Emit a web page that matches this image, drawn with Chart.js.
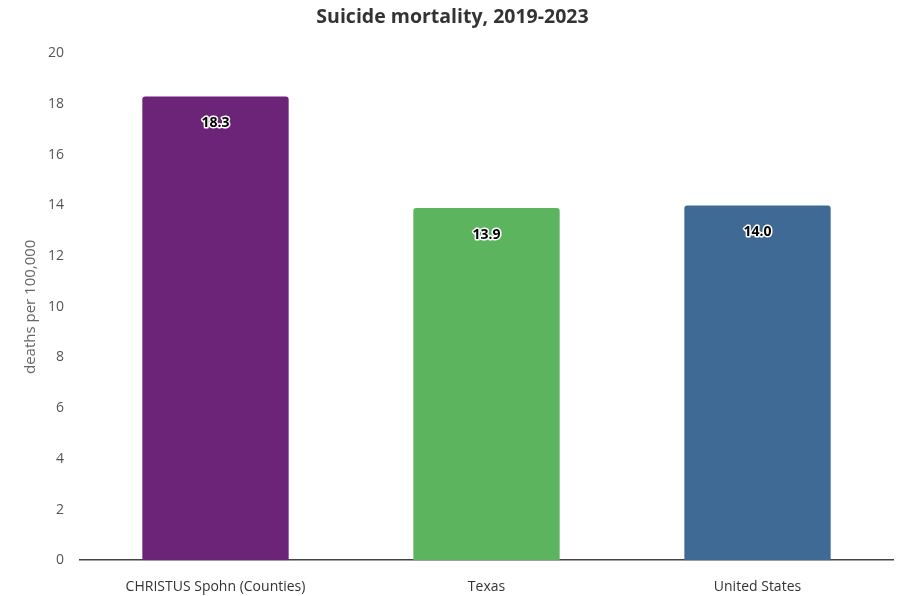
<!DOCTYPE html>
<html lang="en">
  <head>
    <meta charset="UTF-8" />
    <title>Suicide mortality</title>
    <style>
      html, body { margin: 0; padding: 0; background: #fff; }
      .wrap { position: relative; width: 898px; height: 596px; }
    </style>
    <script src="https://cdn.jsdelivr.net/npm/chart.js"></script>
  </head>
  <body>
    <div class="wrap">
      <canvas id="myChart"></canvas>
    </div>
    <script>
      // chart data
      const categories = ["CHRISTUS Spohn (Counties)", "Texas", "United States"];
      const rates = [18.3, 13.9, 14.0];
      const barColors = ["#6b2477", "#5cb45f", "#3f6a96"];

      // value labels drawn inside the top of each bar
      const valueLabels = {
        id: "valueLabels",
        afterDatasetsDraw(chart) {
          const ctx = chart.ctx;
          const meta = chart.getDatasetMeta(0);
          ctx.save();
          ctx.font = "bold 14px 'Open Sans'";
          ctx.textAlign = "center";
          ctx.textBaseline = "middle";
          ctx.lineJoin = "round";
          meta.data.forEach((bar, i) => {
            const txt = rates[i].toFixed(1);
            const y = bar.y + 27;
            ctx.lineWidth = 3;
            ctx.strokeStyle = "#fff";
            ctx.strokeText(txt, bar.x, y);
            ctx.fillStyle = "#000";
            ctx.fillText(txt, bar.x, y);
          });
          ctx.restore();
        }
      };

      const ctx = document.getElementById("myChart").getContext("2d");
      new Chart(ctx, {
        type: "bar",
        data: {
          labels: categories,
          datasets: [{
            data: rates,
            backgroundColor: barColors,
            borderRadius: { topLeft: 3, topRight: 3 },
            borderSkipped: "bottom",
            barPercentage: 0.54,
            categoryPercentage: 1
          }]
        },
        options: {
          responsive: true,
          maintainAspectRatio: false,
          animation: false,
          layout: { padding: { top: 6, right: 5, bottom: -17, left: 12 } },
          plugins: {
            legend: { display: false },
            tooltip: { enabled: false },
            title: {
              display: true,
              text: "Suicide mortality, 2019-2023",
              color: "#333",
              font: { family: "'Open Sans'", size: 19.5, weight: "bold" },
              padding: { top: 0, bottom: 24 }
            }
          },
          scales: {
            x: {
              grid: { display: false, drawTicks: false },
              border: { display: true, color: "#444", width: 1.5 },
              ticks: {
                color: "#333",
                padding: 18,
                font: { family: "'Open Sans'", size: 14 }
              }
            },
            y: {
              min: 0,
              max: 20,
              grid: { display: false, drawTicks: false },
              border: { display: false },
              afterFit: s => { s.width = 68; },
              ticks: {
                stepSize: 2,
                color: "#555",
                padding: 16,
                font: { family: "'Open Sans'", size: 14 }
              },
              title: {
                display: true,
                text: "deaths per 100,000",
                color: "#666",
                font: { family: "'Open Sans'", size: 15 },
                padding: { top: 10, bottom: 0 }
              }
            }
          }
        },
        plugins: [valueLabels]
      });
    </script>
  </body>
</html>
